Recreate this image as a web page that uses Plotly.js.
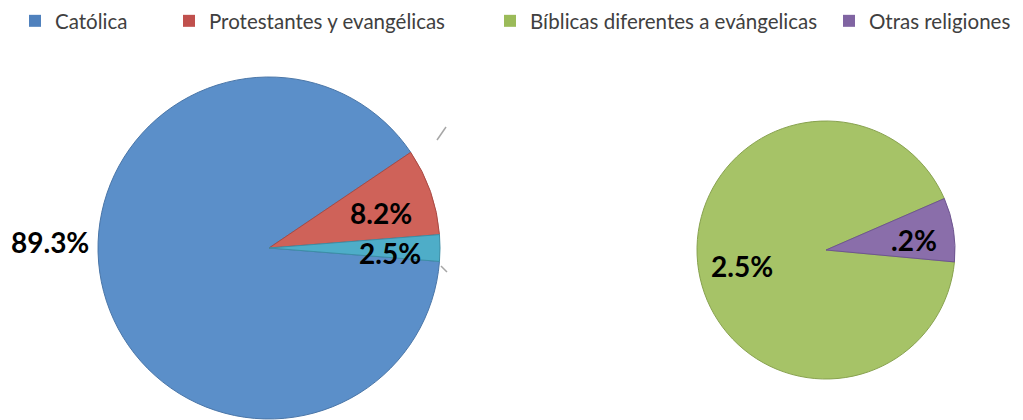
<!DOCTYPE html>
<html><head><meta charset="utf-8">
<script src="https://cdn.plot.ly/plotly-3.0.1.min.js"></script>
<style>html,body{margin:0;padding:0;background:#fff}#chart{width:1023px;height:420px}</style>
</head><body><div id="chart"></div>
<script>
// ---- data ----
const mainLabels = ["Católica", "Protestantes y evangélicas", "Otras (agrupadas)"];
const mainValues = [89.3, 8.2, 2.5];
const mainText = ["89.3%", "8.2%", "2.5%"];
const subLabels = ["Bíblicas diferentes a evángelicas", "Otras religiones"];
const subValues = [2.3, 0.2];
const subText = ["2.5%", ".2%"];
const legendLabels = ["Católica", "Protestantes y evangélicas", "Bíblicas diferentes a evángelicas", "Otras religiones"];

// ---- styles / positions ----
const mainColors = ["#5B8FC9", "#CF6259", "#4EADC8"];
const mainLines = ["#4A76A8", "#A94A44", "#3C8EA6"];
const subColors = ["#A6C367", "#8A6EAA"];
const subLines = ["#88A24F", "#6E5590"];
const legendColors = ["#4F81BD", "#C0504D", "#9BBB59", "#8064A2"];
const legendX = [15, 169, 490, 829];
const mainLabelPos = [[50, 242], [381, 213], [390, 253]];
const subLabelPos = [[742, 266], [914, 240]];

const W = 1023, H = 420;
const labelFont = {family: "Lato, 'Open Sans', sans-serif", size: 28, color: "#000", weight: 700};

const traces = [
  {
    type: "pie", labels: mainLabels, values: mainValues, text: mainText,
    textinfo: "none", sort: false, direction: "clockwise", rotation: 94.5,
    marker: {colors: mainColors, line: {color: mainLines, width: 1}},
    domain: {x: [98/W, 440/W], y: [1 - 419/H, 1 - 77/H]},
    showlegend: false, hoverinfo: "label+text"
  },
  {
    type: "pie", labels: subLabels, values: subValues, text: subText,
    textinfo: "none", sort: false, direction: "clockwise", rotation: 95.3,
    marker: {colors: subColors, line: {color: subLines, width: 1}},
    domain: {x: [697/W, 955/W], y: [1 - 379/H, 1 - 121/H]},
    showlegend: false, hoverinfo: "label+text"
  }
];

const annotations = [];
mainText.forEach((t, i) => annotations.push({
  xref: "paper", yref: "paper", x: mainLabelPos[i][0] / W, y: 1 - mainLabelPos[i][1] / H,
  xanchor: "center", yanchor: "middle", text: t, showarrow: false, font: labelFont
}));
subText.forEach((t, i) => annotations.push({
  xref: "paper", yref: "paper", x: subLabelPos[i][0] / W, y: 1 - subLabelPos[i][1] / H,
  xanchor: "center", yanchor: "middle", text: t, showarrow: false, font: labelFont
}));

const legendFont = {family: "Lato, 'Open Sans', sans-serif", size: 20.5, color: "#404040"};
const layout = {
  width: W, height: H,
  margin: {l: 0, r: 0, t: 0, b: 0},
  paper_bgcolor: "#fff", plot_bgcolor: "#fff",
  xaxis: {visible: false}, yaxis: {visible: false},
  annotations: annotations,
  shapes: [
    {type: "line", xref: "paper", yref: "paper", x0: 437/W, y0: 1 - 140/H, x1: 446/W, y1: 1 - 127/H, line: {color: "#A6A6A6", width: 1.5}},
    {type: "line", xref: "paper", yref: "paper", x0: 441/W, y0: 1 - 266/H, x1: 447/W, y1: 1 - 272/H, line: {color: "#A6A6A6", width: 1.5}}
  ]
};

legendLabels.forEach((name, i) => {
  const key = i === 0 ? "legend" : "legend" + (i + 1);
  layout[key] = {
    x: legendX[i] / W, xanchor: "left", y: 1 - 21/H, yanchor: "middle",
    orientation: "h", font: legendFont, bgcolor: "rgba(0,0,0,0)", borderwidth: 0,
    itemwidth: 30
  };
  traces.push({
    type: "scatter", mode: "markers", x: [null], y: [null], name: name,
    marker: {symbol: "square", size: 12, color: legendColors[i]},
    legend: key, showlegend: true, hoverinfo: "skip"
  });
});

Plotly.newPlot("chart", traces, layout, {displayModeBar: false});
</script>
</body></html>
